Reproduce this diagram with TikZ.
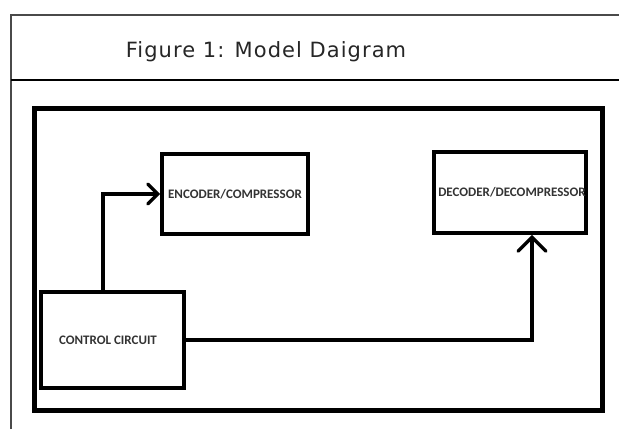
\documentclass[tikz,border=0pt]{standalone}
\usepackage{fontspec}
\setmainfont{DejaVu Sans}
\newfontfamily\blockfont{Carlito}
\newfontfamily\titlefont[LetterSpace=5]{DejaVu Sans}
\usetikzlibrary{arrows.meta}
\definecolor{rulegray}{HTML}{4A4A4A}
\definecolor{labelgray}{HTML}{333333}
\tikzset{
  blockbox/.style={draw=black, line width=3.8pt, fill=none, inner sep=0pt,
    font=\blockfont\bfseries\fontsize{13}{15}\selectfont, text=labelgray},
  link/.style={draw=black, line width=3.3pt},
  barbA/.style={-{Straight Barb[length=10pt,width=20pt,line cap=round]}},
  barbB/.style={-{Straight Barb[length=14pt,width=28pt,line cap=round]}},
}
\begin{document}
\begin{tikzpicture}[x=1pt,y=-1pt]
  \useasboundingbox (0,0) rectangle (619,429);
  % table frame around the figure
  \draw[rulegray, line width=1.8pt] (11,429) -- (11,15) -- (619,15);
  \draw[black, line width=2pt] (11,80) -- (619,80);
  \node[font=\titlefont\fontsize{21}{24}\selectfont, text=black!85] (title) at (266,52) {Figure 1: Model Daigram};
  % diagram border
  \node[draw=black, line width=5pt, minimum width=568pt, minimum height=302pt, inner sep=0pt] (frame) at (318,259) {};
  % blocks
  \node[blockbox, minimum width=146pt, minimum height=80pt] (enc) at (235,194) {ENCODER/COMPRESSOR};
  \node[blockbox, minimum width=152pt, minimum height=81pt] (dec) at (510,192.5) {\hspace*{4pt}DECODER/DECOMPRESSOR};
  \node[blockbox, minimum width=143pt, minimum height=96pt] (ctrl) at (112.5,340) {CONTROL CIRCUIT\hspace*{9pt}};
  % connectors
  \coordinate (k1) at (103,0);
  \coordinate (k2) at (532,0);
  \draw[link, barbA] (k1 |- ctrl.north) |- (enc.west);
  \draw[link, barbB] (ctrl.east) -| (k2 |- dec.south);
\end{tikzpicture}
\end{document}
